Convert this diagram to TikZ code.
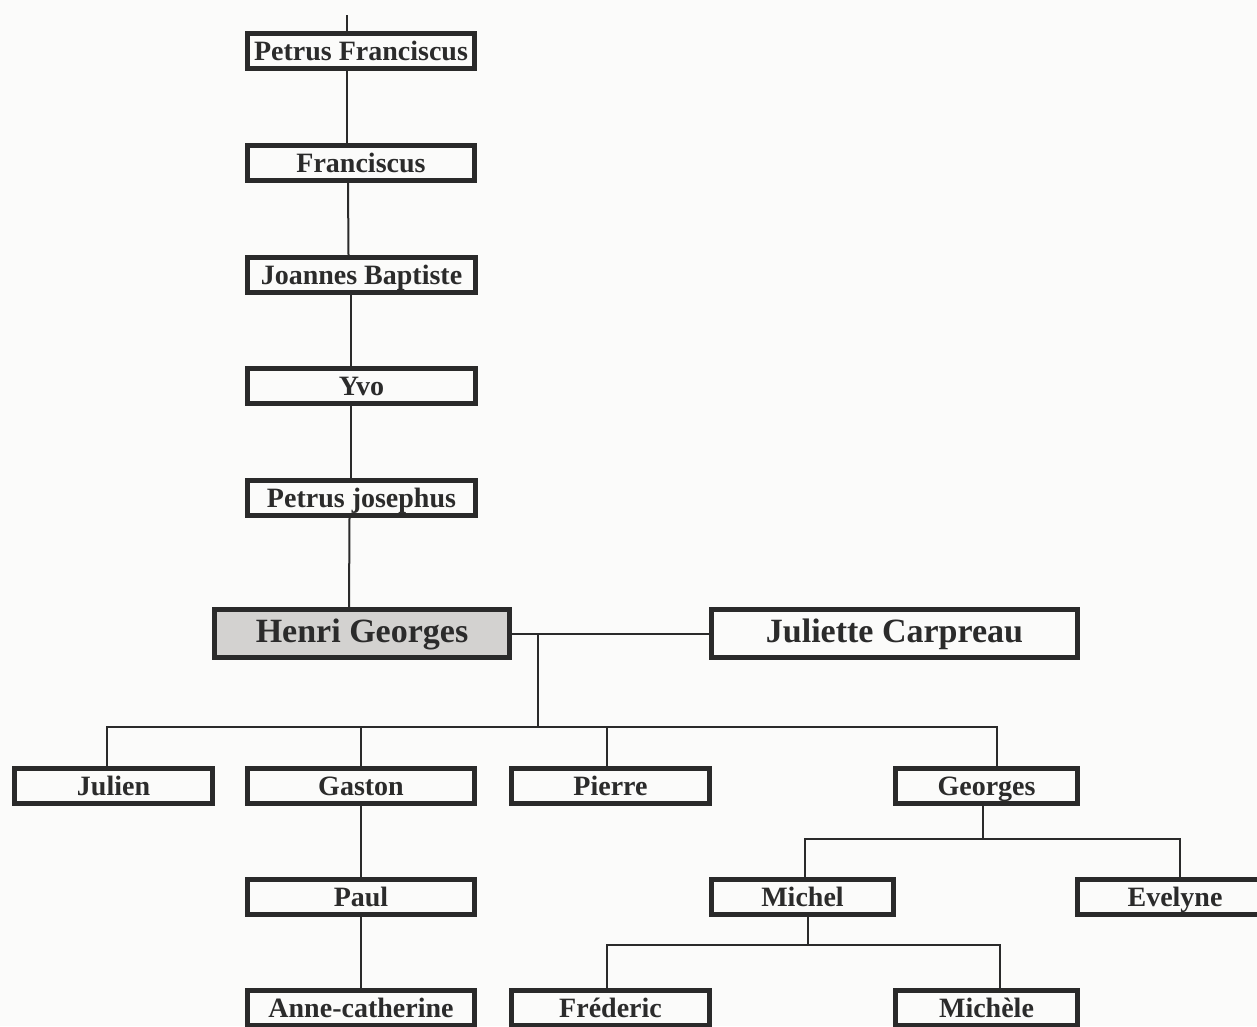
\documentclass[tikz,border=0pt]{standalone}
\usepackage{fontspec}
\setmainfont{Liberation Serif}
\begin{document}
\begin{tikzpicture}[x=1pt,y=-1pt,
  pbox/.style={draw=boxline,line width=5pt,fill=paper,inner sep=0pt,
    text=ink,font=\fontsize{28}{30}\selectfont\bfseries,
    minimum height=35pt,text height=22pt,text depth=4pt},
  bigbox/.style={pbox,minimum height=48pt,text height=26pt,text depth=9pt,
    font=\fontsize{34}{36}\selectfont\bfseries},
  conn/.style={draw=boxline,line width=2pt}]
\definecolor{boxline}{HTML}{2A2A2A}
\definecolor{ink}{HTML}{2B2B2B}
\definecolor{paper}{HTML}{FBFBFA}
\definecolor{hgfill}{HTML}{D3D2D0}
\useasboundingbox (0,0) rectangle (1257,1026);
\clip (0,0) rectangle (1257,1026);
\fill[paper] (0,0) rectangle (1257,1026);

% column of ancestors
\node[pbox,minimum width=227pt] (pf) at (361,51) {Petrus Franciscus};
\node[pbox,minimum width=227pt] (fr) at (361,163) {Franciscus};
\node[pbox,minimum width=228pt] (jb) at (361.5,275) {Joannes Baptiste};
\node[pbox,minimum width=228pt] (yvo) at (361.5,386) {Yvo};
\node[pbox,minimum width=228pt] (pj) at (361.5,498) {Petrus josephus};
\node[bigbox,fill=hgfill,minimum width=295pt] (hg) at (362,633.5) {Henri Georges};
\node[bigbox,minimum width=366pt] (jc) at (894.5,633.5) {Juliette Carpreau};

% children
\node[pbox,minimum width=198pt] (ju) at (113.5,786) {Julien};
\node[pbox,minimum width=227pt] (ga) at (361,786) {Gaston};
\node[pbox,minimum width=198pt] (pi) at (610.5,786) {Pierre};
\node[pbox,minimum width=182pt] (ge) at (986.5,786) {Georges};

\node[pbox,minimum width=227pt] (pa) at (361,897) {Paul};
\node[pbox,minimum width=182pt] (mi) at (802.5,897) {Michel};
\node[pbox,minimum width=196pt] (ev) at (1175,897) {Evelyne};

\node[pbox,minimum width=227pt] (ac) at (361,1008) {Anne-catherine};
\node[pbox,minimum width=198pt] (fd) at (610.5,1008) {Fréderic};
\node[pbox,minimum width=182pt] (mc) at (986.5,1008) {Michèle};

% ancestor line
\coordinate (top) at (347,15);
\draw[conn] (top) -- ([xshift=-14pt]pf.north);
\draw[conn] ([xshift=-14pt]pf.south) -- ([xshift=-14pt]fr.north);
\draw[conn] ([xshift=-13pt]fr.south) -- ([xshift=-13pt]jb.north);
\draw[conn] ([xshift=-11pt]jb.south) -- ([xshift=-11pt]yvo.north);
\draw[conn] ([xshift=-11pt]yvo.south) -- ([xshift=-11pt]pj.north);
\draw[conn] ([xshift=-12pt]pj.south) -- ([xshift=-13pt]hg.north);

% marriage
\draw[conn] (hg.east) -- (jc.west);
\coordinate (m1) at (538,633.5);
\coordinate (b1) at (538,727);
\draw[conn] (m1) -- (b1);
\draw[conn] ([xshift=-6.5pt]ju.north) |- (b1) -| ([xshift=10.5pt]ge.north);
\draw[conn] (ga.north) -- (ga.north |- b1);
\draw[conn] ([xshift=-3.5pt]pi.north) -- ([xshift=-3.5pt]pi.north |- b1);

% Gaston line
\draw[conn] (ga.south) -- (pa.north);
\draw[conn] (pa.south) -- (ac.north);

% Georges
\coordinate (b2) at (983,839);
\draw[conn] ([xshift=-3.5pt]ge.south) -- (b2);
\draw[conn] ([xshift=2.5pt]mi.north) |- (b2) -| ([xshift=5pt]ev.north);

% Michel
\coordinate (b3) at (808,945);
\draw[conn] ([xshift=5.5pt]mi.south) -- (b3);
\draw[conn] ([xshift=-3.5pt]fd.north) |- (b3) -| ([xshift=13.5pt]mc.north);
\end{tikzpicture}
\end{document}
